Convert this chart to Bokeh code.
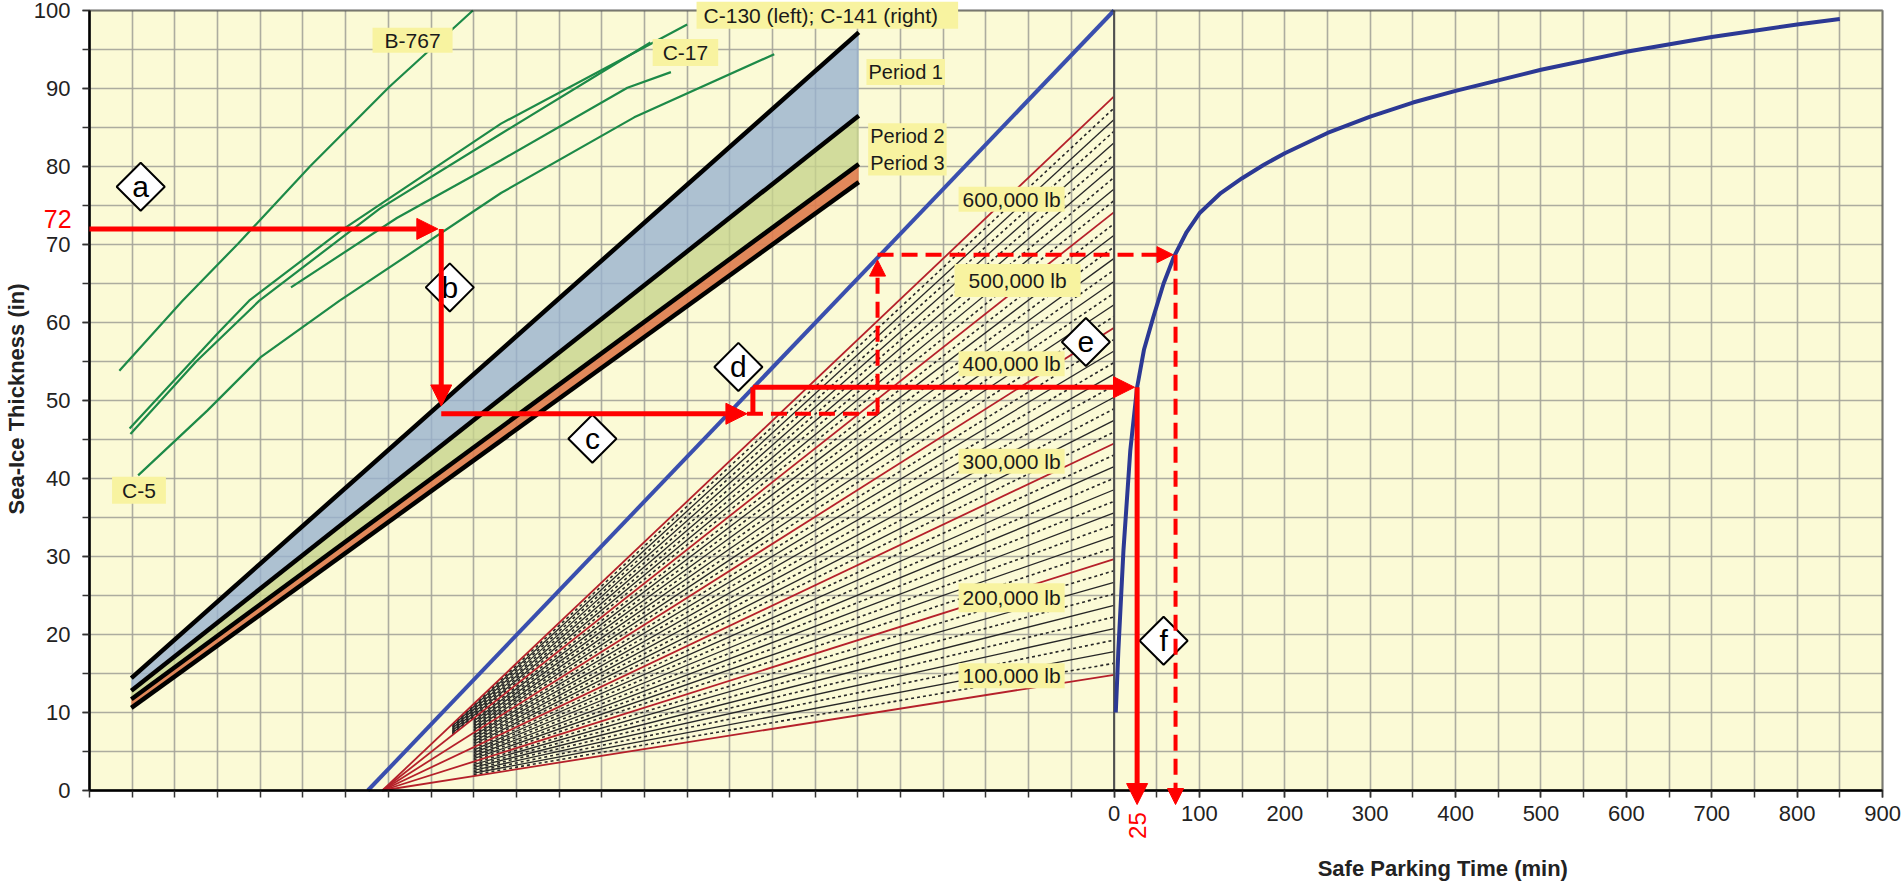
import numpy as np
from bokeh.plotting import figure
from bokeh.models import Range1d, FixedTicker, Label, Arrow, NormalHead, BoxAnnotation
from bokeh.core.properties import value
from bokeh.embed import file_html
from bokeh.resources import INLINE

FONT = "Liberation Sans"

# ---------------- data ----------------
# axes
y_major_ticks = list(range(0, 101, 10))
y_minor_ticks = list(range(0, 101, 5))
x_major_ticks = list(range(0, 901, 100))          # safe parking time labels (min)
x_minor_ticks = list(range(-1200, 901, 50))
plot_x = (-1200, 900)
plot_y = (0, 100)

# aircraft curves (left nomograph, x in chart units, y = sea-ice thickness, in)
b767_x = [-1165, -1091, -1026, -941, -849, -751]
b767_y = [53.8, 62.8, 70.1, 80.1, 90.2, 100.0]
c130_x = [-1153, -1050, -1013, -905, -718, -500]
c130_y = [46.4, 58.6, 62.8, 71.8, 85.5, 98.2]
c141_x = [-1152, -1075, -1001, -860, -718, -543]
c141_y = [45.7, 55.0, 62.8, 74.6, 84.2, 95.9]
c17_x = [-964, -840, -718, -570, -519]
c17_y = [64.5, 73.4, 80.8, 90.1, 92.1]
c5_x = [-1143, -1062, -999, -907, -718, -562, -398]
c5_y = [40.4, 48.7, 55.6, 62.8, 76.6, 86.3, 94.4]

# period bands
period_x = [-1151, -299]
period1_upper = [14.4, 97.2]
period2_upper = [12.8, 86.5]
period3_upper = [11.7, 80.3]
period3_lower = [10.6, 78.0]

# turning line
turn_x = [-874, 0]
turn_y = [0, 100]

# aircraft-weight fan (weights in 1000 lb)
fan_origin_x = -857
fan_weights = list(range(100, 601, 10))
fan_in_per_100k = 14.83
fan_start_main = -750
fan_start_top = -775

# safe parking time curve
park_time = [2, 5, 11, 19, 27, 35, 46, 58, 70, 85, 100, 125, 150, 175, 200, 250, 300, 350, 400, 500, 600, 700, 800, 850]
park_thick = [10, 17.9, 30.8, 43.6, 51.7, 56.5, 60.7, 65.0, 68.4, 71.6, 74.0, 76.6, 78.5, 80.2, 81.7, 84.3, 86.4, 88.2, 89.7, 92.4, 94.7, 96.6, 98.2, 98.9]

# worked example (solid and dashed arrows)
ex_thick = 72
ex_time = 25
solid_arrows = [(-1200, 72, -792, 72), (-788, 72, -788, 49.3), (-788, 48.3, -430, 48.3),
                (-423, 51.7, 24, 51.7), (27, 51.7, 27, -1.8)]
solid_steps = [(-423, 48.3, -423, 51.7)]
dashed_arrows = [(-277, 48.3, -277, 68.0), (-277, 68.7, 69, 68.7), (72, 68.7, 72, -1.8)]
dashed_steps = [(-430, 48.3, -277, 48.3)]

step_letters = ["a", "b", "c", "d", "e", "f"]
step_x = [-1140, -778, -611, -440, -33, 58]
step_y = [77.4, 64.5, 45.1, 54.3, 57.5, 19.2]

# ---------------- figure (frame covers the whole canvas; axes placed at fixed locations) ----------------
X_LEFT, X_RIGHT = -1304.2, 923.4
Y_BOTTOM, Y_TOP = -11.795, 101.282
p = figure(width=1902, height=882, min_border=0,
           x_range=Range1d(X_LEFT, X_RIGHT), y_range=Range1d(Y_BOTTOM, Y_TOP),
           output_backend="svg", toolbar_location=None)
p.background_fill_color = "white"
p.border_fill_color = "white"
p.outline_line_color = None

p.add_layout(BoxAnnotation(left=plot_x[0], right=plot_x[1], bottom=plot_y[0], top=plot_y[1],
                           fill_color="#fbfad6", fill_alpha=1.0, line_color=None, level="image"))

p.xaxis.ticker = FixedTicker(ticks=x_major_ticks, minor_ticks=x_minor_ticks)
p.yaxis.ticker = FixedTicker(ticks=y_major_ticks, minor_ticks=y_minor_ticks)
p.xaxis.fixed_location = plot_y[0]
p.xaxis.bounds = plot_x
p.yaxis.fixed_location = plot_x[0]
p.yaxis.bounds = plot_y
for ax in (p.xaxis, p.yaxis):
    ax.axis_line_color = "black"
    ax.axis_line_width = 2.5
    ax.major_tick_in = 0
    ax.major_tick_out = 7
    ax.minor_tick_in = 0
    ax.minor_tick_out = 7
    ax.major_tick_line_color = "#333333"
    ax.minor_tick_line_color = "#333333"
    ax.major_tick_line_width = 1.5
    ax.minor_tick_line_width = 1.5
    ax.major_label_text_font = FONT
    ax.major_label_text_font_size = "22px"
    ax.major_label_text_color = "#222222"
p.xaxis.major_label_standoff = 9
p.yaxis.major_label_standoff = 12

GRID_COLOR = "#a3a399"
p.xgrid.ticker = FixedTicker(ticks=x_minor_ticks)
p.ygrid.ticker = FixedTicker(ticks=y_minor_ticks)
try:
    p.xgrid.bounds = plot_x
    p.ygrid.bounds = plot_y
    p.xgrid.cross_bounds = plot_y
    p.ygrid.cross_bounds = plot_x
    for g in (p.xgrid, p.ygrid):
        g.grid_line_color = GRID_COLOR
        g.grid_line_width = 1.6
        g.grid_line_alpha = 0.9
except AttributeError:
    p.xgrid.visible = False
    p.ygrid.visible = False
    p.segment(x0=x_minor_ticks, y0=[plot_y[0]] * len(x_minor_ticks), x1=x_minor_ticks,
              y1=[plot_y[1]] * len(x_minor_ticks), line_color=GRID_COLOR, line_width=1.6,
              line_alpha=0.9, level="underlay")
    p.segment(x0=[plot_x[0]] * len(y_minor_ticks), y0=y_minor_ticks, x1=[plot_x[1]] * len(y_minor_ticks),
              y1=y_minor_ticks, line_color=GRID_COLOR, line_width=1.6, line_alpha=0.9, level="underlay")

# period bands
p.varea(x=period_x, y1=period2_upper, y2=period1_upper, fill_color="#97b1cf", fill_alpha=0.78)
p.varea(x=period_x, y1=period3_upper, y2=period2_upper, fill_color="#c6d48c", fill_alpha=0.78)
p.varea(x=period_x, y1=period3_lower, y2=period3_upper, fill_color="#de7b4c", fill_alpha=0.9)
for yy in (period1_upper, period2_upper, period3_upper, period3_lower):
    p.line(period_x, yy, line_color="black", line_width=4.5)

# aircraft curves
for cx, cy in ((b767_x, b767_y), (c130_x, c130_y), (c141_x, c141_y), (c17_x, c17_y), (c5_x, c5_y)):
    p.line(cx, cy, line_color="#1d8a48", line_width=2.2)

# weight fan
red_xs, red_ys, sol_xs, sol_ys, dash_xs, dash_ys = [], [], [], [], [], []
for w in fan_weights:
    y_end = fan_in_per_100k * w / 100.0
    if w % 100 == 0:
        red_xs.append([fan_origin_x, 0]); red_ys.append([0, y_end])
    else:
        xs0 = fan_start_top if w > 500 else fan_start_main
        ys0 = y_end * (xs0 - fan_origin_x) / (0 - fan_origin_x)
        if (w // 10) % 2 == 0:
            sol_xs.append([xs0, 0]); sol_ys.append([ys0, y_end])
        else:
            dash_xs.append([xs0, 0]); dash_ys.append([ys0, y_end])
p.multi_line(sol_xs, sol_ys, line_color="#262626", line_width=1.3)
p.multi_line(dash_xs, dash_ys, line_color="#262626", line_width=1.6, line_dash="3 3")
p.multi_line(red_xs, red_ys, line_color="#b5202a", line_width=1.8)

# turning line, zero line, parking curve
p.line(turn_x, turn_y, line_color="#3a4fae", line_width=4)
p.line([0, 0], list(plot_y), line_color="#505050", line_width=2)
p.line(park_time, park_thick, line_color="#2c3994", line_width=4)

# plot border
p.add_layout(BoxAnnotation(left=plot_x[0], right=plot_x[1], bottom=plot_y[0], top=plot_y[1],
                           fill_color=None, line_color="black", line_width=2.5, level="guide"))

# worked example
for (x0, y0, x1, y1) in solid_steps:
    p.line([x0, x1], [y0, y1], line_color="red", line_width=5)
for (x0, y0, x1, y1) in dashed_steps:
    p.line([x0, x1], [y0, y1], line_color="red", line_width=4, line_dash="16 8")
for (x0, y0, x1, y1) in solid_arrows:
    p.add_layout(Arrow(end=NormalHead(size=21, fill_color="red", line_color="red", line_width=1),
                       x_start=x0, y_start=y0, x_end=x1, y_end=y1,
                       line_color="red", line_width=5))
for (x0, y0, x1, y1) in dashed_arrows:
    p.add_layout(Arrow(end=NormalHead(size=16, fill_color="red", line_color="red", line_width=1),
                       x_start=x0, y_start=y0, x_end=x1, y_end=y1,
                       line_color="red", line_width=4, line_dash="16 8"))

# step diamonds
p.scatter(step_x, step_y, marker="square", angle=np.pi / 4, size=34,
          fill_color="white", line_color="black", line_width=2)
p.text(step_x, step_y, text=step_letters, text_align="center", text_baseline="middle",
       text_font=value(FONT), text_font_size="30px", text_color="black")

# yellow labels
BOX = "#f8f3a0"
def box_label(x, y, text, align="center", h=4, v=1, size="21px", hr=None):
    p.add_layout(Label(x=x, y=y, text=text, text_align=align, text_baseline="middle",
                       text_font=FONT, text_font_size=size, text_color="#1a1a1a",
                       background_fill_color=BOX,
                       padding=dict(left=h, right=h if hr is None else hr, top=v, bottom=v)))

box_label(-821.6, 96.2, "B-767", h=12)
box_label(-489, 99.4, "C-130 (left); C-141 (right)", align="left", h=7, hr=20, v=2)
box_label(-502, 94.6, "C-17", h=10, v=2)
box_label(-1142, 38.5, "C-5", h=10, v=2)
box_label(-290, 92.1, "Period 1", align="left", h=2, v=2, size="20px")
box_label(-288, 82.2, "Period 2\nPeriod 3", align="left", h=2, v=2, size="20px")
box_label(-120, 75.8, "600,000 lb", h=4)
box_label(-113, 65.4, "500,000 lb", h=14, v=5)
box_label(-120, 54.7, "400,000 lb", h=4)
box_label(-120, 42.2, "300,000 lb", h=4)
box_label(-120, 24.7, "200,000 lb", h=4, v=3)
box_label(-120, 14.7, "100,000 lb", h=4)

# red example values and axis titles
p.add_layout(Label(x=-1221.0, y=ex_thick + 1.3, text=str(ex_thick), text_align="right",
                   text_baseline="middle", text_font=FONT, text_font_size="25px",
                   text_color="red"))
p.add_layout(Label(x=ex_time + 2, y=-4.5, text=str(ex_time), angle=np.pi / 2, text_align="center",
                   text_baseline="middle", text_font=FONT, text_font_size="24px",
                   text_color="red"))
p.add_layout(Label(x=-1285.5, y=50.2, text="Sea-Ice Thickness (in)", angle=np.pi / 2,
                   text_align="center", text_baseline="middle", text_font=FONT,
                   text_font_size="22px", text_font_style="bold", text_color="#222222"))
p.add_layout(Label(x=385, y=-10, text="Safe Parking Time (min)", text_align="center",
                   text_baseline="middle", text_font=FONT, text_font_size="22px",
                   text_font_style="bold", text_color="#222222"))

open("out.html", "w").write(file_html(p, INLINE))
